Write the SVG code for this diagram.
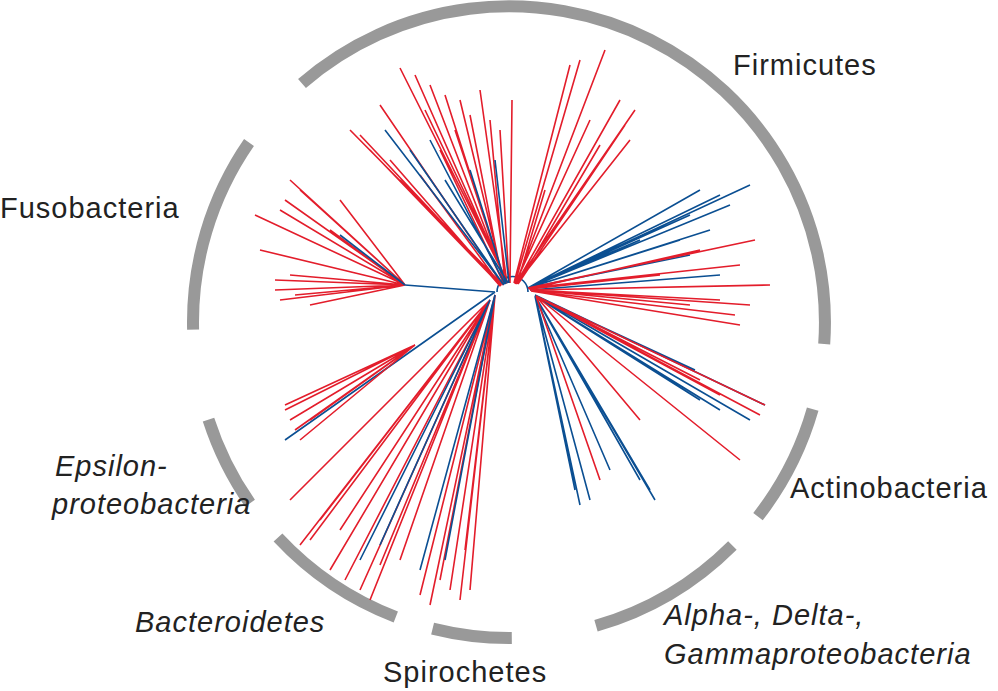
<svg xmlns="http://www.w3.org/2000/svg" width="998" height="691" viewBox="0 0 998 691">
<style>
.arc{fill:none;stroke:#999;stroke-width:12}
.r{fill:none;stroke:#e31d2b;stroke-width:1.6}
.b{fill:none;stroke:#0b4f92;stroke-width:1.6}
text{font-family:"Liberation Sans",Arial,sans-serif;font-size:29px;letter-spacing:1px;fill:#222}
.i{font-style:italic}
</style>
<rect width="998" height="691" fill="#fff"/>
<g id="arcs">
<path class="arc" d="M302,83.5 A316,316 0 0 1 824.2,344"/>
<path class="arc" d="M812.7,409.2 A316,316 0 0 1 758,516.6"/>
<path class="arc" d="M732.4,545.4 A316,316 0 0 1 596,625.7"/>
<path class="arc" d="M511.8,638 A316,316 0 0 1 432.6,628.6"/>
<path class="arc" d="M395.8,617 A316,316 0 0 1 278,537.5"/>
<path class="arc" d="M250,503.3 A316,316 0 0 1 208.5,419.6"/>
<path class="arc" d="M193.1,329.7 A316,316 0 0 1 249,142.5"/>
</g>
<g id="tree">
<path class="b" d="M497,292 A15,15 0 0 1 528,292"/>
<path class="r" d="M508,283 L400,68 M507,283 L415,75 M506,283 L430,85 M505,283 L445,95 M504,283 L460,100 M503,284 L470,115 M502,284 L380,105 M501,285 L360,135 M500,285 L370,150 M500,286 L390,160 M501,286 L420,175 M505,284 L490,120 M507,283 L480,90 M509,283 L500,130 M510,283 L512,100 M504,284 L440,150 M503,285 L400,180 M506,284 L455,130 M502,284 L350,130 M508,283 L425,110"/>
<path class="b" d="M503,284 L410,150 M505,284 L430,140 M506,284 L470,170 M504,285 L385,130 M508,283 L445,180 M509,283 L495,160"/>
<path class="r" d="M514,283 L570,65 M515,283 L580,60 M516,283 L605,50 M516,283 L635,110 M517,283 L630,140 M518,284 L600,145 M517,284 L545,190 M516,284 L620,100 M515,284 L590,120 M518,284 L625,125"/>
<path class="b" d="M528,288 L750,185 M528,288 L720,195 M528,288 L700,190 M528,288 L690,215 M528,288 L640,240 M528,288 L730,205 M528,288 L710,230 M528,288 L680,240 M528,288 L690,255 M530,290 L720,275"/>
<path class="r" d="M528,288 L755,240 M528,288 L740,265 M529,289 L700,250 M530,290 L770,285 M531,291 L740,325 M531,291 L735,315 M531,290 L690,305 M530,290 L720,300 M530,289 L660,275 M531,290 L750,305"/>
<path class="b" d="M535,295 L765,405 M535,295 L750,420 M535,296 L700,400 M535,296 L720,410 M535,296 L655,500 M535,296 L650,490 M535,296 L640,480 M535,296 L580,505 M535,296 L590,500 M535,296 L575,490 M535,296 L610,470 M535,296 L695,370"/>
<path class="r" d="M536,296 L765,405 M536,296 L760,415 M536,296 L740,460 M536,296 L640,420 M536,296 L700,380 M536,296 L720,395 M536,296 L600,480"/>
<path class="r" d="M495,295 L430,605 M495,295 L450,590 M495,295 L470,590 M495,295 L465,550 M495,295 L440,580 M495,295 L420,595 M495,295 L460,600"/>
<path class="b" d="M495,295 L420,570 M495,295 L445,560"/>
<path class="r" d="M490,300 L300,545 M490,300 L310,540 M490,300 L330,570 M490,300 L360,590 M490,300 L345,580 M490,300 L380,565 M490,300 L320,520 M490,300 L400,560 M490,300 L370,600 M490,300 L290,500 M490,300 L340,530"/>
<path class="b" d="M490,300 L360,560 M490,300 L380,545"/>
<path class="b" d="M495,292 L285,440 M495,292 L405,285"/>
<path class="r" d="M415,345 L285,410 M415,345 L290,420 M415,345 L300,440 M415,345 L285,405 M415,345 L295,430 M415,345 L310,420"/>
<path class="r" d="M405,285 L275,290 M405,285 L280,300 M405,285 L310,305 M405,285 L275,280 M405,285 L290,275 M405,285 L260,250 M405,285 L290,180 M405,285 L280,210 M405,285 L300,190 M405,285 L340,200 M405,285 L255,215 M405,285 L330,230 M405,285 L285,200 M405,285 L295,295"/>
<path class="b" d="M405,285 L340,235"/>
</g>
<g id="labels">
<text x="733" y="75">Firmicutes</text>
<text x="0" y="218">Fusobacteria</text>
<text x="55" y="476" class="i">Epsilon-</text>
<text x="52" y="514" class="i">proteobacteria</text>
<text x="135" y="632" class="i">Bacteroidetes</text>
<text x="383" y="682">Spirochetes</text>
<text x="790" y="498">Actinobacteria</text>
<text x="664" y="625" class="i">Alpha-, Delta-,</text>
<text x="664" y="664" class="i">Gammaproteobacteria</text>
</g>
</svg>
